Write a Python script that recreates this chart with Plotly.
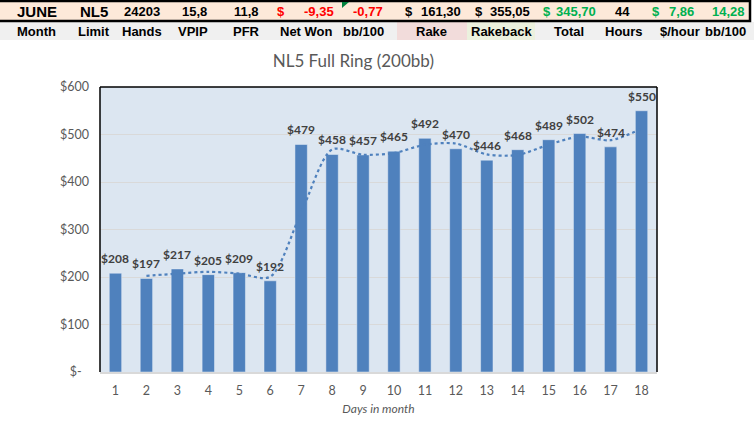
import plotly.graph_objects as go

# chart data
days = list(range(1, 19))
daily_won = [208, 197, 217, 205, 209, 192, 479, 458, 457, 465, 492, 470, 446, 468, 489, 502, 474, 550]
# dotted trend line (moving average)
trend = [None, 202.5, 207, 211, 207, 200.5, 335.5, 468.5, 457.5, 461, 478.5, 481, 458, 457, 478.5, 495.5, 488, 512]
y_ticks = [0, 100, 200, 300, 400, 500, 600]
y_tick_labels = ['$-\u2007', '$100', '$200', '$300', '$400', '$500', '$600']

# summary table on top
top_values = ['JUNE', 'NL5', '24203', '15,8', '11,8', '$', '-9,35', '-0,77', '$', '161,30', '$', '355,05',
              '$', '345,70', '44', '$', '7,86', '14,28']
top_colors = ['black', 'black', 'black', 'black', 'black', 'red', 'red', 'red', 'black', 'black', 'black', 'black',
              '#00B050', '#00B050', 'black', '#00B050', '#00B050', '#00B050']
top_x = [37, 94, 142, 194, 246, 281, 319, 368, 409, 441, 479, 510, 547, 576, 622, 656, 681, 728]
header_labels = ['Month', 'Limit', 'Hands', 'VPIP', 'PFR', 'Net Won', 'bb/100', 'Rake', 'Rakeback',
                 'Total', 'Hours', '$/hour', 'bb/100']
header_x = [36, 94, 142, 193, 246, 306, 363, 432, 501, 569, 624, 680, 725]

# plot area in pixels
L, R, T, B = 100, 657, 87, 372


def px(x):
    return (x - L) / (R - L)


def py(y):
    return (B - y) / (B - T)


fig = go.Figure()
fig.add_trace(go.Bar(x=days, y=daily_won, marker_color='#4F81BD', width=0.4, hoverinfo='x+y'))
fig.add_trace(go.Scatter(x=days, y=trend, mode='lines',
                         line=dict(color='#4F81BD', width=2.2, dash='dot', shape='spline', smoothing=0.8)))

# data labels
for d, v in zip(days, daily_won):
    fig.add_annotation(x=d, y=v, text='$' + str(v), showarrow=False, yanchor='bottom', yshift=5,
                       font=dict(family='Lato', size=12, color='#404040', weight='bold'))

shapes = []
# header rows
shapes.append(dict(type='rect', xref='paper', yref='paper', x0=px(-5), x1=px(760), y0=py(40), y1=py(22),
                   fillcolor='#F0F0F0', line_width=0, layer='below'))
shapes.append(dict(type='rect', xref='paper', yref='paper', x0=px(397), x1=px(467), y0=py(40), y1=py(22),
                   fillcolor='#F2DCDB', line_width=0, layer='below'))
shapes.append(dict(type='rect', xref='paper', yref='paper', x0=px(467), x1=px(535), y0=py(40), y1=py(22),
                   fillcolor='#EBF1DE', line_width=0, layer='below'))
shapes.append(dict(type='rect', xref='paper', yref='paper', x0=px(-3), x1=px(750), y0=py(21), y1=py(1),
                   fillcolor='#FDE9D9', line=dict(color='black', width=2.5), layer='below'))
shapes.append(dict(type='path', xref='paper', yref='paper',
                   path='M %f %f L %f %f L %f %f Z' % (px(342), py(2), px(349), py(2), px(342), py(8)),
                   fillcolor='#00803C', line_width=0))
# chart frame
for x0, y0, x1, y1 in [(0, 0, 0, 1), (0, 1, 1, 1), (1, 1, 1, 0)]:
    shapes.append(dict(type='line', xref='paper', yref='paper', x0=x0, y0=y0, x1=x1, y1=y1,
                       line=dict(color='black', width=1.5)))

for txt, x, c in zip(top_values, top_x, top_colors):
    size = 15 if txt in ('JUNE', 'NL5') else 13
    fig.add_annotation(xref='paper', yref='paper', x=px(x), y=py(11), text='<b>' + txt + '</b>',
                       showarrow=False, xanchor='center', yanchor='middle',
                       font=dict(family='Liberation Sans', size=size, color=c))
for txt, x in zip(header_labels, header_x):
    fig.add_annotation(xref='paper', yref='paper', x=px(x), y=py(31), text='<b>' + txt + '</b>',
                       showarrow=False, xanchor='center', yanchor='middle',
                       font=dict(family='Liberation Sans', size=13, color='black'))

fig.update_layout(
    width=754, height=426,
    margin=dict(l=L, r=754 - R, t=T, b=426 - B),
    paper_bgcolor='white', plot_bgcolor='#DCE6F1',
    showlegend=False,
    bargap=0.6,
    shapes=shapes,
    title=dict(text='NL5 Full Ring (200bb)', x=px(361), xanchor='center', y=1 - 61 / 426, yanchor='middle',
               font=dict(family='Lato', size=17, color='#595959')),
    font=dict(family='Lato', size=12.5, color='#595959'),
    xaxis=dict(tickmode='array', tickvals=days, range=[0.5, 18.5], showgrid=False, zeroline=False,
               showline=True, linecolor='#D9D9D9', linewidth=1.5, ticks='', ticklabelstandoff=6,
               title=dict(text='<i>Days in month</i>', font=dict(size=12, color='#595959'), standoff=8)),
    yaxis=dict(tickmode='array', tickvals=y_ticks, ticktext=y_tick_labels, range=[0, 600],
               showgrid=True, gridcolor='#D9D9D9', gridwidth=1, zeroline=False, ticks='',
               ticklabelstandoff=10),
)

# the page has a default 8px body margin; drop it so the chart sits at the window corner
fig.write_html('out.html', config={'displayModeBar': False},
               post_script="document.body.style.margin='0';")
